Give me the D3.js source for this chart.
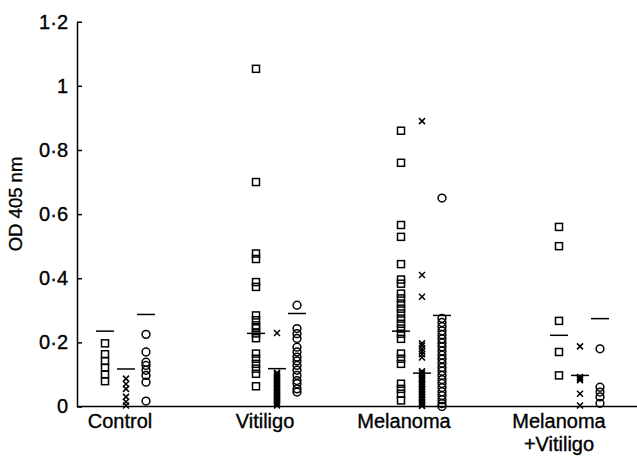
<!DOCTYPE html>
<html>
<head>
<meta charset="utf-8">
<script src="https://cdn.jsdelivr.net/npm/d3@7"></script>
<style>
  html, body { margin: 0; padding: 0; background: #fff; }
  svg { display: block; }
  text { font-family: "Liberation Sans", Arial, Helvetica, sans-serif; fill: #000; stroke: #000; stroke-width: 0.35px; }
</style>
</head>
<body>
<div id="chart"></div>
<script>
// ---------------- data ----------------
const groups = ["Control", "Vitiligo", "Melanoma", "Melanoma\n+Vitiligo"];
const markerTypes = ["square", "cross", "circle"];
const yTicks = [0, 0.2, 0.4, 0.6, 0.8, 1, 1.2];
const yLabel = "OD 405 nm";

// square series (per group)
const squareValues = [
  [0.197, 0.163, 0.142, 0.121, 0.100, 0.079],
  [1.053, 0.70, 0.477, 0.46, 0.388, 0.373, 0.284, 0.269, 0.253, 0.244, 0.228, 0.213,
   0.165, 0.149, 0.133, 0.118, 0.102, 0.063],
  [0.86, 0.76, 0.566, 0.529, 0.444, 0.396, 0.383, 0.352, 0.337, 0.321, 0.305, 0.29,
   0.274, 0.258, 0.243, 0.227, 0.211, 0.165, 0.149, 0.133, 0.071, 0.055, 0.04, 0.019],
  [0.56, 0.50, 0.267, 0.17, 0.097]
];
// cross series (per group)
const crossValues = [
  [0.087, 0.07, 0.055, 0.03, 0.015, 0.003],
  [0.229, 0.105, 0.101, 0.096, 0.093, 0.088, 0.084, 0.08, 0.074, 0.071, 0.066, 0.062,
   0.059, 0.054, 0.05, 0.045, 0.042, 0.037, 0.034, 0.029, 0.025, 0.02, 0.016, 0.011, 0.007, 0.003],
  [0.89, 0.41, 0.342, 0.197, 0.19, 0.18, 0.172, 0.163, 0.153, 0.11, 0.105, 0.1, 0.095,
   0.09, 0.086, 0.081, 0.075, 0.07, 0.066, 0.061, 0.055, 0.05, 0.046, 0.04, 0.036, 0.03,
   0.025, 0.021, 0.015, 0.011, 0.006, 0.002],
  [0.1875, 0.092, 0.087, 0.082, 0.04, 0.003]
];
// circle series (per group)
const circleValues = [
  [0.225, 0.17, 0.138, 0.128, 0.113, 0.097, 0.076, 0.017],
  [0.316, 0.243, 0.227, 0.212, 0.185, 0.17, 0.154, 0.142, 0.128, 0.113, 0.097, 0.081,
   0.071, 0.055, 0.045],
  [0.65, 0.275, 0.262, 0.249, 0.236, 0.224, 0.211, 0.198, 0.186, 0.173, 0.16, 0.148,
   0.135, 0.122, 0.11, 0.097, 0.084, 0.072, 0.059, 0.046, 0.034, 0.021, 0.009, 0.0],
  [0.18, 0.06, 0.045, 0.03, 0.01]
];
// horizontal summary bars (per group: square, cross, circle)
const squareMedians = [0.235, 0.228, 0.235, 0.222];
const crossMedians  = [0.117, 0.118, 0.104, 0.097];
const circleMedians = [0.287, 0.29, 0.284, 0.274];

// ---------------- layout ----------------
const W = 637, H = 459;
const svg = d3.select("#chart").append("svg").attr("width", W).attr("height", H);

const y = d3.scaleLinear().domain([0, 1.2]).range([406.5, 21.7]);
const xGroup = d3.scaleOrdinal().domain(groups).range([126, 277, 422, 580]);
const xLabel = d3.scaleOrdinal().domain(groups).range([120, 265, 404, 559]);
const xOffset = d3.scaleOrdinal().domain(markerTypes).range([-21, 0, 20]);

const axisX0 = 77;

// y axis
const fmt = v => (v === 0 || v === 1) ? String(v) : d3.format(".1f")(v).replace(".", "\u00B7");
const yAxis = d3.axisLeft(y).tickValues(yTicks).tickFormat(fmt)
  .tickSizeInner(-5).tickSizeOuter(0).tickPadding(9);
const gy = svg.append("g").attr("transform", `translate(${axisX0},0)`).call(yAxis);
gy.select(".domain").attr("stroke", "#000").attr("stroke-width", 1.5);
gy.selectAll(".tick line").attr("stroke", "#000").attr("stroke-width", 1.5);
gy.selectAll(".tick text").style("font-size", "20px").attr("fill", "#000")
  .style("font-family", "'Liberation Sans', Arial, sans-serif");

// x axis line
svg.append("line")
  .attr("x1", axisX0).attr("x2", W)
  .attr("y1", y(0)).attr("y2", y(0))
  .attr("stroke", "#000").attr("stroke-width", 1.5);

// y label
svg.append("text")
  .attr("transform", `translate(22,204) rotate(-90)`)
  .attr("text-anchor", "middle")
  .style("font-size", "18.5px")
  .text(yLabel);

// category labels
groups.forEach(g => {
  const lines = g.split("\n");
  const t = svg.append("text")
    .attr("text-anchor", "middle")
    .style("font-size", "20px");
  lines.forEach((ln, i) => {
    t.append("tspan").attr("x", xLabel(g)).attr("y", 428 + i * 23).text(ln);
  });
});

// markers
const marks = svg.append("g").attr("fill", "none").attr("stroke", "#000").attr("stroke-width", 1.5);

groups.forEach((g, gi) => {
  const cx = xGroup(g);
  // squares
  const xs = cx + xOffset("square");
  marks.selectAll(null).data(squareValues[gi]).enter().append("rect")
    .attr("x", xs - 3.5).attr("y", d => y(d) - 3.5)
    .attr("width", 7).attr("height", 7);
  // crosses
  const xc = cx + xOffset("cross");
  marks.selectAll(null).data(crossValues[gi]).enter().append("path")
    .attr("d", d => `M${xc - 3},${y(d) - 3}L${xc + 3},${y(d) + 3}M${xc - 3},${y(d) + 3}L${xc + 3},${y(d) - 3}`);
  // circles
  const xo = cx + xOffset("circle");
  marks.selectAll(null).data(circleValues[gi]).enter().append("circle")
    .attr("cx", xo).attr("cy", d => y(d)).attr("r", 3.9);
  // summary bars
  [[xs, squareMedians[gi]], [xc, crossMedians[gi]], [xo, circleMedians[gi]]].forEach(([xx, v]) => {
    marks.append("line")
      .attr("x1", xx - 9).attr("x2", xx + 9)
      .attr("y1", y(v)).attr("y2", y(v))
      .attr("stroke-width", 1.5);
  });
});
</script>
</body>
</html>
